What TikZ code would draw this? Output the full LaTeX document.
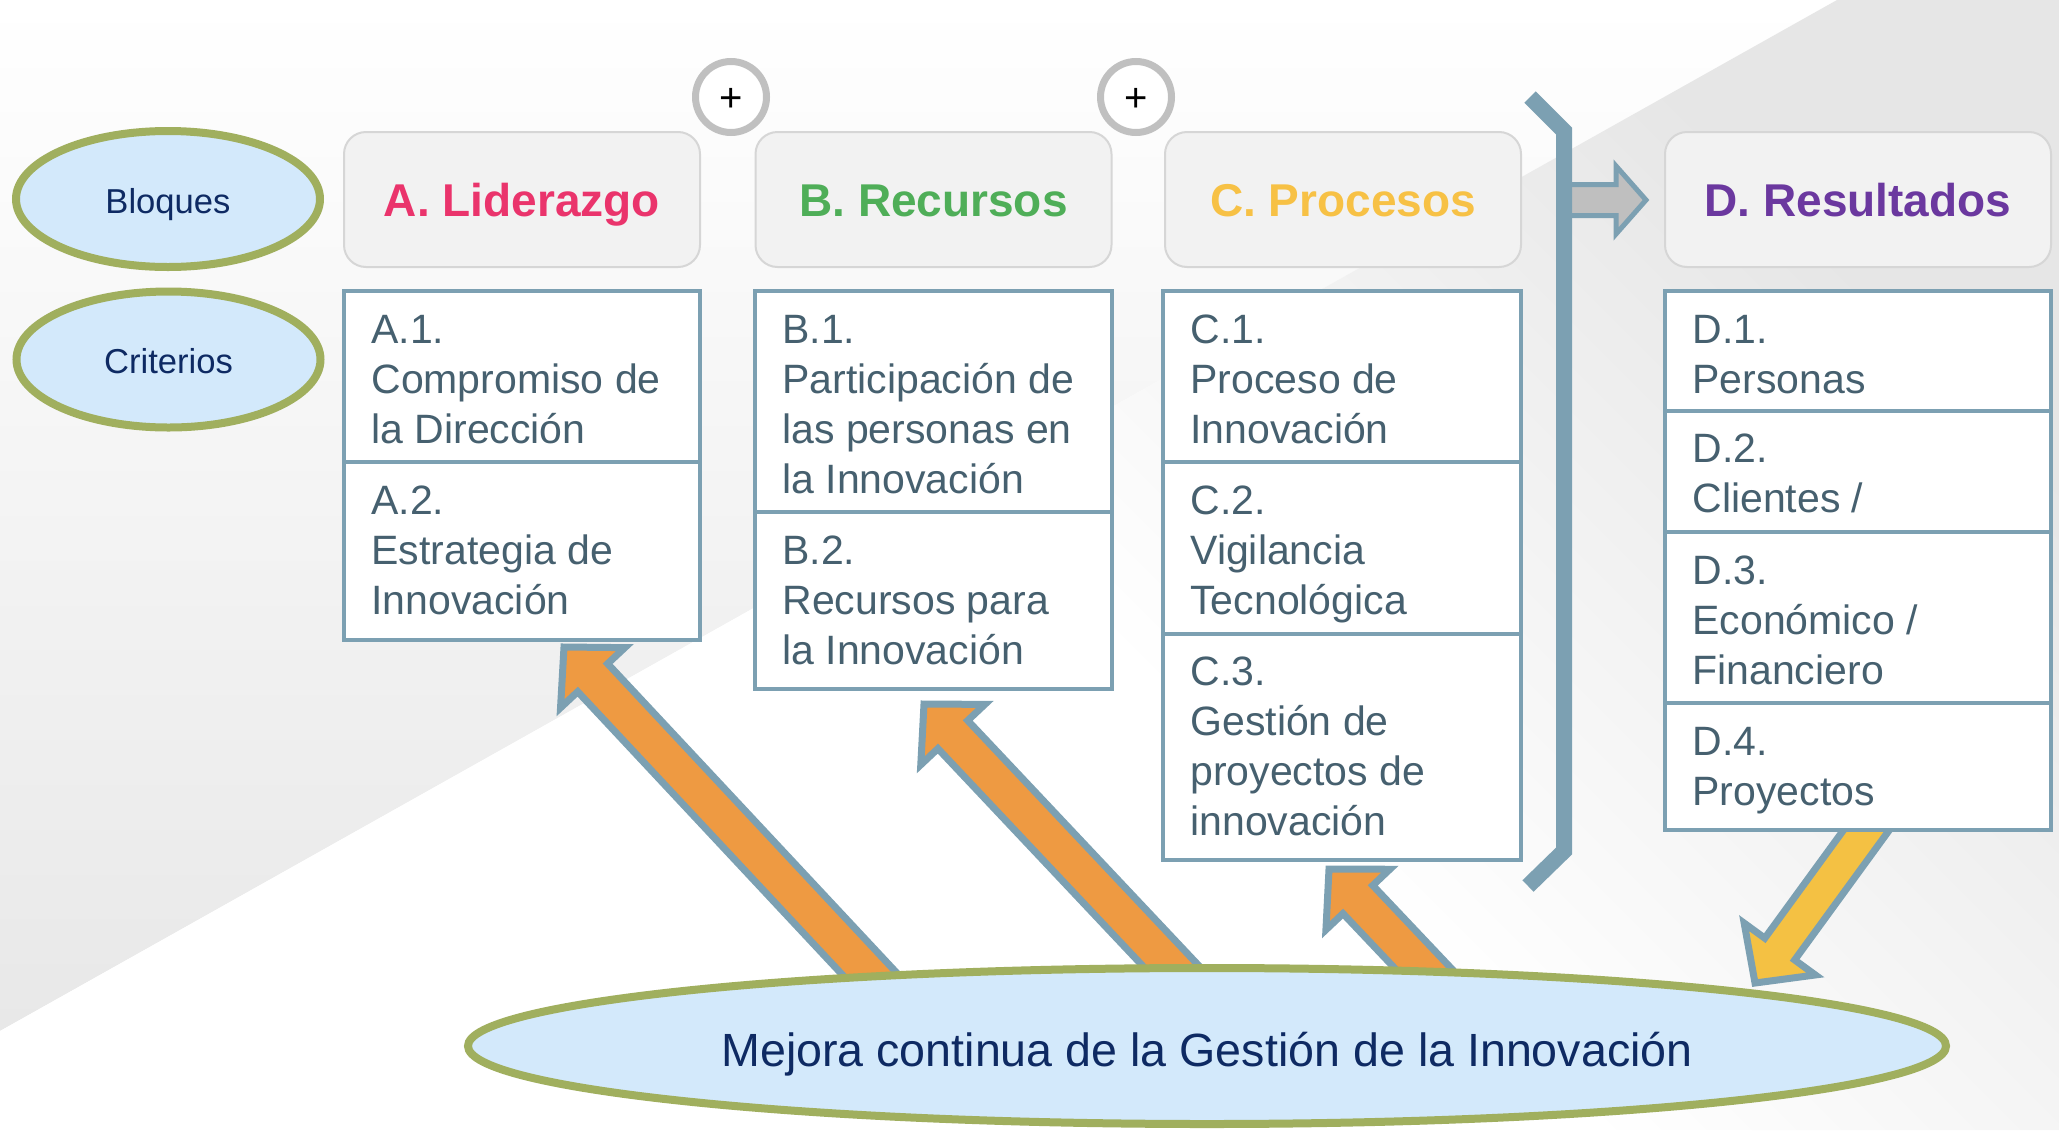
\documentclass[tikz,border=0pt]{standalone}
\usepackage{fontspec}
\setmainfont{Liberation Sans}
\usetikzlibrary{calc,shapes.geometric}
\pgfdeclarelayer{bgl}
\pgfdeclarelayer{arrl}
\pgfdeclarelayer{ell}
\pgfdeclarelayer{arrt}
\pgfsetlayers{bgl,arrl,ell,arrt,main}
\definecolor{steel}{HTML}{7CA0B2}
\definecolor{txt}{HTML}{46606F}
\definecolor{navy}{HTML}{0E2A63}
\definecolor{ellfill}{HTML}{D3E9FB}
\definecolor{ellline}{HTML}{A0AF5E}
\definecolor{hdrfill}{HTML}{F2F2F2}
\definecolor{hdrline}{HTML}{D6D6D6}
\definecolor{orangeA}{HTML}{EE9A42}
\definecolor{yellowA}{HTML}{F4C143}
\definecolor{grayA}{HTML}{BFBFBF}
\definecolor{ringc}{HTML}{C0C0C0}
\definecolor{colA}{HTML}{EA346C}
\definecolor{colB}{HTML}{4FAE58}
\definecolor{colC}{HTML}{F7C145}
\definecolor{colD}{HTML}{6B389F}
\definecolor{bgA}{HTML}{E8E8E8}
\definecolor{bgC}{HTML}{E6E6E6}
\pgfdeclareverticalshading{bgB}{100bp}{color(0bp)=(white); color(25bp)=(white); color(50bp)=(white); color(75bp)=(bgC); color(100bp)=(bgC)}
\newcommand\blkarrow[6]{%
  \coordinate (bneck) at ($(#3)!#6!(#2)$);
  \path[#1] ($(#2)!#4!90:(#3)$) -- ($(bneck)!#4!90:(#3)$) -- ($(bneck)!#5!90:(#3)$) -- (#3) -- ($(bneck)!#5!-90:(#3)$) -- ($(bneck)!#4!-90:(#3)$) -- ($(#2)!#4!-90:(#3)$) -- cycle;}
\tikzset{
  hdr/.style={draw=hdrline, line width=1pt, fill=hdrfill, rounded corners=11pt, minimum width=178pt, minimum height=67.5pt, inner sep=0pt, text height=16.5pt, text depth=0pt, font=\fontsize{23pt}{26pt}\selectfont\bfseries},
  crit/.style={draw=steel, line width=1.6pt, fill=white, anchor=north west, inner sep=0pt, outer sep=0pt},
  crittext/.style={anchor=north west, inner sep=0pt, align=left, text=txt, font=\fontsize{20.5pt}{25pt}\selectfont},
  lblell/.style={ellipse, draw=ellline, line width=4pt, fill=ellfill, minimum width=152pt, minimum height=68pt, inner sep=0pt, text=navy, text height=14pt, text depth=0pt, font=\fontsize{17.3pt}{19pt}\selectfont},
  plusc/.style={circle, draw=ringc, line width=3.5pt, fill=white, minimum size=35.5pt, inner sep=0pt, text height=14.1pt, text depth=0pt, font=\fontsize{20pt}{22pt}\selectfont},
  arrorange/.style={draw=steel, line width=3.5pt, fill=orangeA, line join=miter},
  arryellow/.style={draw=steel, line width=3.5pt, fill=yellowA, line join=miter},
  arrgray/.style={draw=steel, line width=2.5pt, fill=grayA, line join=miter},
  bracketbar/.style={draw=steel, line width=8pt, line join=miter}
}
\begin{document}
\begin{tikzpicture}[x=0.5pt, y=-0.5pt]
\useasboundingbox (0,0) rectangle (2059,1130);
\begin{pgfonlayer}{bgl}
\fill[white] (0,0) rectangle (2059,1130);
\shade[top color=white, bottom color=bgA] (0,0) -- (1837,0) -- (0,1031) -- cycle;
\shade[shading=bgB, shading angle=-45] (1837,0) -- (2059,0) -- (2059,1130) -- (0,1130) -- (0,1031) -- cycle;
\end{pgfonlayer}

% left labels
\node[lblell] (bloques) at (168,199) {Bloques};
\node[lblell] (criterios) at (168.5,359.5) {Criterios};

% headers
\node[hdr, text=colA] (hA) at (522,199.5) {A. Liderazgo};
\node[hdr, text=colB] (hB) at (933.5,199.5) {B. Recursos};
\node[hdr, text=colC] (hC) at (1343,199.5) {C. Procesos};
\node[hdr, text=colD, minimum width=193pt] (hD) at (1858,199.5) {D. Resultados};

% plus circles
\node[plusc] (p1) at (731,97) {+};
\node[plusc] (p2) at (1136,97) {+};

% criteria boxes
\node[crit, minimum width=178pt, minimum height=85.5pt] (a1) at (344,291) {};
\node[crit, minimum width=178pt, minimum height=89pt] (a2) at (344,462) {};
\node[crit, minimum width=178.5pt, minimum height=110.5pt] (b1) at (755,291) {};
\node[crit, minimum width=178.5pt, minimum height=88.5pt] (b2) at (755,512) {};
\node[crit, minimum width=179pt, minimum height=85.5pt] (c1) at (1163,291) {};
\node[crit, minimum width=179pt, minimum height=86pt] (c2) at (1163,462) {};
\node[crit, minimum width=179pt, minimum height=113pt] (c3) at (1163,634) {};
\node[crit, minimum width=193pt, minimum height=60pt] (d1) at (1665,291) {};
\node[crit, minimum width=193pt, minimum height=60.5pt] (d2) at (1665,411) {};
\node[crit, minimum width=193pt, minimum height=85.5pt] (d3) at (1665,532) {};
\node[crit, minimum width=193pt, minimum height=63.5pt] (d4) at (1665,703) {};

\node[crittext] (ta1) at ($(a1.north west)+(27,16.5)$) {\rule{0pt}{18pt}A.1.\\Compromiso de\\la Dirección};
\node[crittext] (ta2) at ($(a2.north west)+(27,16)$) {\rule{0pt}{18pt}A.2.\\Estrategia de\\Innovación};
\node[crittext] (tb1) at ($(b1.north west)+(27,16.5)$) {\rule{0pt}{18pt}B.1.\\Participación de\\las personas en\\la Innovación};
\node[crittext] (tb2) at ($(b2.north west)+(27,16)$) {\rule{0pt}{18pt}B.2.\\Recursos para\\la Innovación};
\node[crittext] (tc1) at ($(c1.north west)+(27,16.5)$) {\rule{0pt}{18pt}C.1.\\Proceso de\\Innovación};
\node[crittext] (tc2) at ($(c2.north west)+(27,16)$) {\rule{0pt}{18pt}C.2.\\Vigilancia\\Tecnológica};
\node[crittext] (tc3) at ($(c3.north west)+(27,15)$) {\rule{0pt}{18pt}C.3.\\Gestión de\\proyectos de\\innovación};
\node[crittext] (td1) at ($(d1.north west)+(27,16.5)$) {\rule{0pt}{18pt}D.1.\\Personas};
\node[crittext] (td2) at ($(d2.north west)+(27,15.5)$) {\rule{0pt}{18pt}D.2.\\Clientes /};
\node[crittext] (td3) at ($(d3.north west)+(27,16)$) {\rule{0pt}{18pt}D.3.\\Económico /\\Financiero};
\node[crittext] (td4) at ($(d4.north west)+(27,16)$) {\rule{0pt}{18pt}D.4.\\Proyectos};

% bottom ellipse
\begin{pgfonlayer}{ell}
\node[lblell, minimum width=739pt, minimum height=78pt, text height=20pt, font=\fontsize{23.3pt}{26pt}\selectfont] (mejora) at (1207,1046) {Mejora continua de la Gestión de la Innovación};
\end{pgfonlayer}

% bracket
\coordinate (brT) at (1530,97);
\coordinate (brTc) at (1564,131);
\coordinate (brBc) at (1564,851);
\coordinate (brB) at (1528,886);
\draw[bracketbar] (brT) -- (brTc) -- (brBc) -- (brB);

% arrow coordinates
\coordinate (tailA) at (894,1000);
\coordinate (tipA) at (564,647);
\coordinate (tailB) at (1203,1000);
\coordinate (tipB) at (924,704);
\coordinate (tailC) at (1453,1000);
\coordinate (tipC) at (1329,869);
\coordinate (tailD) at (1881,810);
\coordinate (tipD) at (1755,983);
\coordinate (tailG) at (1564,200);
\coordinate (tipG) at (1646,200);

\begin{pgfonlayer}{arrl}
\blkarrow{arrorange}{tailA}{tipA}{10.25pt}{22pt}{21pt}
\blkarrow{arrorange}{tailB}{tipB}{10.25pt}{22pt}{21pt}
\blkarrow{arrorange}{tailC}{tipC}{10.25pt}{22pt}{21pt}
\blkarrow{arrgray}{tailG}{tipG}{7.75pt}{17pt}{15pt}
\end{pgfonlayer}
\begin{pgfonlayer}{arrt}
\blkarrow{arryellow}{tailD}{tipD}{9.25pt}{22pt}{21pt}
\end{pgfonlayer}
\end{tikzpicture}
\end{document}
